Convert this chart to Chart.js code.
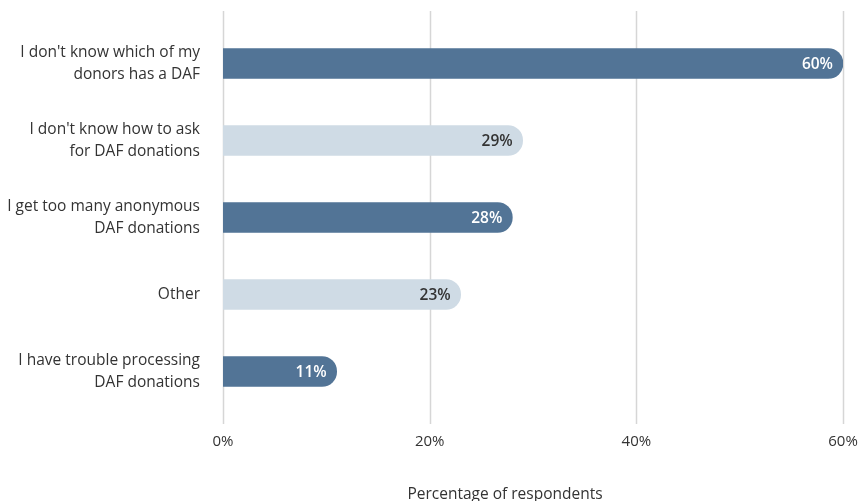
<!DOCTYPE html>
<html>
<head>
<meta charset="utf-8">
<script src="https://cdn.jsdelivr.net/npm/chart.js@4/dist/chart.umd.min.js"></script>
<style>
  html, body { margin: 0; padding: 0; background: #ffffff; }
  #wrap { width: 863px; height: 501px; position: relative; }
</style>
</head>
<body>
<div id="wrap"><canvas id="chart"></canvas></div>
<script>
"use strict";

const categories = [
    ["I don't know which of my", "donors has a DAF"],
    ["I don't know how to ask", "for DAF donations"],
    ["I get too many anonymous", "DAF donations"],
    "Other",
    ["I have trouble processing", "DAF donations"]
];
const values = [60, 29, 28, 23, 11];
const tickValues = [0, 20, 40, 60];
const axisTitle = "Percentage of respondents";

const DARK = '#527496';
const LIGHT = '#cfdbe5';
const barColors = [DARK, LIGHT, DARK, LIGHT, DARK];
const labelColors = ['#ffffff', '#333333', '#ffffff', '#333333', '#ffffff'];
const FONT = "'Open Sans', Lato, sans-serif";

// vertical grid lines, a bit taller than the plot area
const gridPlugin = {
    id: 'tallGrid',
    beforeDatasetsDraw(chart) {
        const ctx = chart.ctx;
        const x = chart.scales.x;
        const area = chart.chartArea;
        ctx.save();
        ctx.strokeStyle = '#d6d6d6';
        ctx.lineWidth = 1.5;
        tickValues.forEach(function (v) {
            const px = Math.round(x.getPixelForValue(v)) + 0.5;
            ctx.beginPath();
            ctx.moveTo(px, area.top - 14);
            ctx.lineTo(px, area.bottom + 14);
            ctx.stroke();
        });
        ctx.restore();
    }
};

// value labels inside bar ends, plus the x axis title (sits left of the plot centre)
const valuePlugin = {
    id: 'valueLabels',
    afterDatasetsDraw(chart) {
        const ctx = chart.ctx;
        const meta = chart.getDatasetMeta(0);
        ctx.save();
        ctx.font = "600 15.5px " + FONT;
        ctx.textAlign = 'right';
        ctx.textBaseline = 'middle';
        meta.data.forEach(function (bar, i) {
            ctx.fillStyle = labelColors[i];
            ctx.fillText(values[i] + '%', bar.x - 10, bar.y + 1);
        });
        ctx.font = "15.5px " + FONT;
        ctx.fillStyle = '#333333';
        ctx.textAlign = 'center';
        ctx.fillText(axisTitle, 505, chart.height - 6);
        ctx.restore();
    }
};

new Chart(document.getElementById('chart').getContext('2d'), {
    type: 'bar',
    data: {
        labels: categories,
        datasets: [{
            data: values,
            backgroundColor: barColors,
            barThickness: 30,
            borderRadius: 15,
            borderSkipped: 'start'
        }]
    },
    options: {
        indexAxis: 'y',
        responsive: true,
        maintainAspectRatio: false,
        animation: false,
        layout: { padding: { top: 25, right: 20, left: 0, bottom: 0 } },
        plugins: {
            legend: { display: false },
            tooltip: { enabled: false }
        },
        scales: {
            x: {
                min: 0,
                max: 60,
                grid: { display: false },
                border: { display: false },
                ticks: {
                    stepSize: 20,
                    color: '#333333',
                    padding: 15,
                    font: { family: FONT, size: 15 },
                    callback: function (v) { return v + '%'; }
                },
                afterFit: function (scale) {
                    scale.height = 91;
                    scale.paddingLeft = 0;
                    scale.paddingRight = 0;
                }
            },
            y: {
                grid: { display: false },
                border: { display: false },
                ticks: {
                    color: '#333333',
                    padding: 15,
                    font: { family: FONT, size: 15.5, lineHeight: 1.42 }
                },
                afterFit: function (scale) {
                    scale.width = 223;
                    scale.paddingTop = 0;
                    scale.paddingBottom = 0;
                }
            }
        }
    },
    plugins: [gridPlugin, valuePlugin]
});
</script>
</body>
</html>
